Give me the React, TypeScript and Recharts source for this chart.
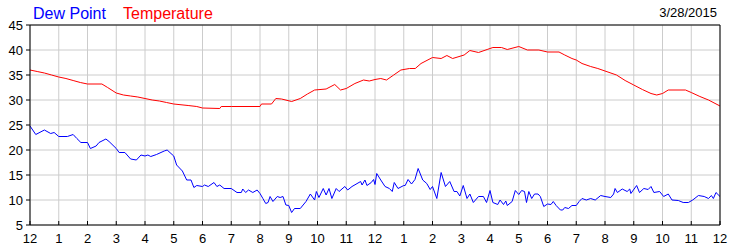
import { LineChart, Line, XAxis, YAxis, CartesianGrid } from "recharts";

// hour of day (0 = midnight), value in °F
const tempPoints: [number, number][] = [
  [0, 36.0], [0.25, 35.7], [0.5, 35.4], [0.75, 35.0], [1, 34.6], [1.25, 34.3], [1.5, 33.9],
  [1.75, 33.5], [2, 33.2], [2.5, 33.2], [2.7, 32.5], [3, 31.4], [3.25, 31.0], [3.5, 30.8],
  [3.75, 30.6], [4, 30.3], [4.25, 30.0], [4.5, 29.8], [4.75, 29.5], [5, 29.2], [5.5, 28.9],
  [5.8, 28.7], [6, 28.4], [6.6, 28.3], [6.65, 28.7], [7, 28.7], [8, 28.7], [8.05, 29.2],
  [8.4, 29.2], [8.55, 30.3], [8.75, 30.2], [9.1, 29.7], [9.4, 30.3], [9.65, 31.2], [9.9, 32.0],
  [10.3, 32.2], [10.6, 33.1], [10.8, 32.0], [11, 32.3], [11.3, 33.3], [11.6, 34.0], [11.8, 33.8],
  [12, 34.1], [12.2, 34.3], [12.4, 34.0], [12.65, 35.0], [12.9, 36.0], [13.2, 36.3], [13.4, 36.3],
  [13.6, 37.3], [14, 38.5], [14.3, 38.3], [14.5, 38.9], [14.7, 38.3], [15.1, 39.0], [15.3, 39.9],
  [15.6, 39.5], [15.9, 40.1], [16.1, 40.5], [16.4, 40.5], [16.6, 40.1], [17, 40.7], [17.3, 40.0],
  [17.7, 40.0], [18, 39.6], [18.4, 39.6], [18.6, 39.0], [18.85, 38.3], [19, 38.0], [19.2, 37.3],
  [19.5, 36.7], [19.75, 36.3], [20, 35.8], [20.4, 35.0], [20.7, 33.9], [21, 33.0], [21.3, 32.1],
  [21.6, 31.3], [21.8, 31.0], [22, 31.3], [22.2, 32.0], [22.8, 32.0], [23, 31.5], [23.3, 30.7],
  [23.6, 30.0], [24, 28.8],
];

const dewPoints: [number, number][] = [
  [0, 24.8], [0.2, 23.1], [0.5, 24.0], [0.72, 23.3], [0.84, 23.5], [1, 22.7], [1.3, 22.7],
  [1.5, 23.1], [1.63, 22.3], [1.77, 21.5], [2, 21.5], [2.1, 20.3], [2.3, 20.8], [2.4, 21.5],
  [2.64, 22.2], [2.75, 21.7], [3, 20.3], [3.1, 19.5], [3.3, 19.5], [3.5, 18.2], [3.7, 18.0],
  [3.86, 19.0], [4, 18.8], [4.1, 19.0], [4.2, 18.7], [4.4, 19.1], [4.67, 19.8], [4.77, 20.0],
  [5, 18.8], [5.1, 17.0], [5.3, 15.8], [5.45, 14.0], [5.6, 14.0], [5.7, 12.5], [5.8, 12.9],
  [6, 12.7], [6.07, 13.0], [6.2, 12.7], [6.4, 13.5], [6.5, 12.7], [6.6, 13.0], [6.75, 12.3],
  [7, 12.3], [7.2, 11.5], [7.35, 11.5], [7.4, 12.2], [7.5, 11.5], [7.6, 12.0], [7.75, 11.5],
  [7.9, 12.0], [8, 11.3], [8.1, 10.3], [8.2, 9.3], [8.28, 9.5], [8.35, 10.7], [8.45, 9.7],
  [8.6, 10.7], [8.7, 10.5], [8.8, 10.7], [8.9, 9.0], [9, 8.9], [9.1, 7.5], [9.2, 8.3],
  [9.4, 8.3], [9.6, 9.7], [9.75, 11.2], [9.9, 10.0], [9.96, 11.7], [10.05, 10.5], [10.2, 12.3],
  [10.3, 11.0], [10.4, 12.3], [10.5, 10.3], [10.65, 12.3], [10.75, 11.7], [10.95, 12.7],
  [11.05, 12.0], [11.2, 12.7], [11.5, 13.7], [11.55, 13.0], [11.65, 14.0], [11.72, 12.9],
  [11.87, 13.5], [11.95, 14.1], [12.0, 13.1], [12.06, 15.3], [12.2, 14.0], [12.35, 12.7],
  [12.5, 12.3], [12.6, 11.7], [12.67, 13.5], [12.8, 12.3], [13, 12.9], [13.05, 12.9],
  [13.15, 14.1], [13.27, 13.2], [13.39, 14.1], [13.5, 16.3], [13.66, 14.0], [13.8, 13.3],
  [13.92, 12.1], [14, 12.7], [14.15, 10.3], [14.3, 15.5], [14.45, 12.7], [14.6, 13.7],
  [14.75, 11.7], [14.85, 11.7], [14.95, 10.8], [15.07, 12.9], [15.2, 10.3], [15.3, 11.2],
  [15.42, 9.5], [15.6, 10.7], [15.77, 10.7], [15.88, 9.5], [16, 11.9], [16.1, 9.5],
  [16.27, 9.1], [16.35, 10.0], [16.47, 9.1], [16.55, 9.8], [16.6, 8.9], [16.77, 9.7],
  [16.88, 11.9], [17, 11.1], [17.1, 11.9], [17.2, 11.7], [17.27, 9.5], [17.35, 11.7],
  [17.45, 10.3], [17.55, 11.2], [17.67, 11.2], [17.75, 10.7], [17.87, 8.7], [18, 9.2],
  [18.12, 9.1], [18.2, 9.7], [18.3, 8.9], [18.45, 8.0], [18.53, 8.0], [18.6, 8.5],
  [18.73, 8.3], [18.85, 8.9], [19, 8.9], [19.1, 9.7], [19.2, 10.3], [19.35, 10.0], [19.5, 10.3],
  [19.66, 10.0], [19.85, 10.9], [20, 10.7], [20.2, 10.5], [20.3, 11.2], [20.35, 12.3],
  [20.43, 11.5], [20.6, 12.2], [20.77, 11.7], [20.86, 12.2], [20.9, 11.3], [21.1, 12.9],
  [21.2, 11.5], [21.35, 12.3], [21.5, 12.1], [21.6, 12.7], [21.7, 11.5], [21.9, 11.7],
  [22.04, 10.7], [22.2, 11.2], [22.33, 10.0], [22.55, 9.9], [22.72, 9.5], [22.9, 9.5],
  [23.05, 10.0], [23.25, 10.9], [23.45, 10.7], [23.6, 10.3], [23.7, 10.9], [23.77, 10.3],
  [23.86, 11.5], [24, 10.7],
];

const hourTicks = [0, 1, 2, 3, 4, 5, 6, 7, 8, 9, 10, 11, 12, 13, 14, 15, 16, 17, 18, 19, 20, 21, 22, 23, 24];
const valueTicks = [5, 10, 15, 20, 25, 30, 35, 40, 45];
const chartDate = "3/28/2015";

const FONT = "'Liberation Sans', Arial, sans-serif";

const tempData = tempPoints.map(([hour, value]) => ({ hour, value }));
const dewData = dewPoints.map(([hour, value]) => ({ hour, value }));

const hourLabel = (h: number) => (h % 12 === 0 ? "12" : String(h % 12));

// bottom axis: ticks point into the plot, label below
const BottomTick = (props: any) => {
  const { x, y, payload } = props;
  const axisY = y - 9;
  return (
    <g>
      <line x1={x} x2={x} y1={axisY} y2={axisY - 4} stroke="#000" />
      <text x={x} y={y} dy="0.71em" textAnchor="middle" fontSize={13} fill="#000" fontFamily={FONT}>
        {hourLabel(payload.value)}
      </text>
    </g>
  );
};

// top axis: inward ticks only
const TopTick = (props: any) => {
  const { x, y } = props;
  return <line x1={x} x2={x} y1={y} y2={y + 4} stroke="#000" />;
};

export default function App() {
  return (
    <div style={{ position: "absolute", left: 0, top: 0, width: 750, height: 250, background: "#fff" }}>
      <LineChart width={750} height={250} margin={{ top: 0, right: 0, bottom: 0, left: 0 }}>
        <CartesianGrid stroke="#cccccc" />
        <XAxis
          dataKey="hour"
          type="number"
          domain={[0, 24]}
          ticks={hourTicks}
          allowDuplicatedCategory={false}
          height={25}
          tickSize={0}
          tickMargin={9}
          tickLine={false}
          axisLine={{ stroke: "#000" }}
          tick={<BottomTick />}
          interval={0}
        />
        <XAxis
          xAxisId="top"
          orientation="top"
          type="number"
          domain={[0, 24]}
          ticks={hourTicks}
          height={25}
          tickSize={0}
          tickMargin={0}
          tickLine={false}
          axisLine={{ stroke: "#000" }}
          tick={<TopTick />}
          interval={0}
        />
        <YAxis
          type="number"
          domain={[5, 45]}
          ticks={valueTicks}
          width={30}
          tickSize={4}
          tickMargin={3}
          interval={0}
          axisLine={{ stroke: "#000" }}
          tickLine={{ stroke: "#000" }}
          tick={{ fill: "#000", fontSize: 13, fontFamily: FONT }}
        />
        <YAxis
          yAxisId="right"
          orientation="right"
          type="number"
          domain={[5, 45]}
          ticks={valueTicks}
          width={30}
          tickSize={4}
          tickMargin={2}
          interval={0}
          axisLine={{ stroke: "#000" }}
          tickLine={{ stroke: "#000" }}
          tick={{ fill: "#000", fontSize: 13, fontFamily: FONT }}
        />
        <Line
          data={tempData}
          dataKey="value"
          type="linear"
          stroke="#ff0000"
          strokeWidth={1}
          dot={false}
          isAnimationActive={false}
        />
        <Line
          data={dewData}
          dataKey="value"
          type="linear"
          stroke="#0000ff"
          strokeWidth={1}
          dot={false}
          isAnimationActive={false}
        />
      </LineChart>
      <svg
        width={750}
        height={250}
        style={{ position: "absolute", left: 0, top: 0, pointerEvents: "none" }}
      >
        <text x={33} y={18.5} fontSize={16} fill="#0000ff" fontFamily={FONT}>
          Dew Point
        </text>
        <text x={123} y={18.5} fontSize={16} fill="#ff0000" fontFamily={FONT}>
          Temperature
        </text>
        <text x={717} y={17} fontSize={13} fill="#000" textAnchor="end" fontFamily={FONT}>
          {chartDate}
        </text>
      </svg>
    </div>
  );
}
